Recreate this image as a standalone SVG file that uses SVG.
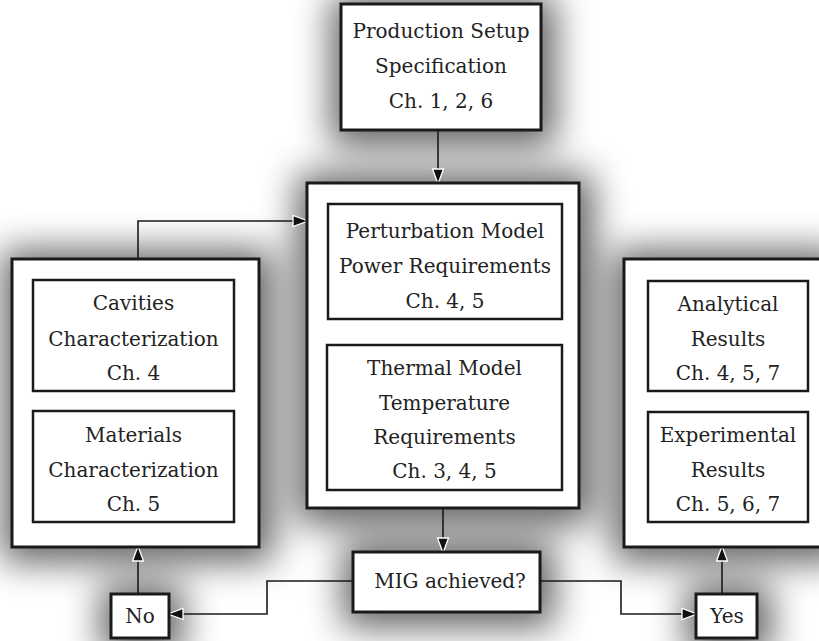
<svg xmlns="http://www.w3.org/2000/svg" width="819" height="641" viewBox="0 0 819 641">
<defs>
<filter id="sh" x="-50%" y="-50%" width="200%" height="200%">
<feGaussianBlur in="SourceGraphic" stdDeviation="18"/>
</filter>
<marker id="ah" markerWidth="18" markerHeight="14" refX="15" refY="6.5" orient="auto" markerUnits="userSpaceOnUse">
<path d="M1,1 L16,6.5 L1,12 z" fill="#111" stroke="#fff" stroke-width="1.3"/>
</marker>
<style>
.outer{fill:#fff;stroke:#1a1a1a;stroke-width:3}
.inner{fill:#fff;stroke:#1a1a1a;stroke-width:2.5}
.conn{fill:none;stroke:#1a1a1a;stroke-width:1.6}
.t{font-family:"DejaVu Serif","Liberation Serif",serif;font-size:20px;fill:#222;text-anchor:middle}
</style>
</defs>
<rect width="819" height="641" fill="#fff"/>
<g id="shadows" fill="#000" opacity="0.62" filter="url(#sh)">
<rect x="331" y="-4" width="224" height="150"/>
<rect x="297" y="174" width="296" height="350"/>
<rect x="2" y="250" width="271" height="312"/>
<rect x="614" y="250" width="232" height="312"/>
<rect x="343" y="543" width="211" height="84"/>
<rect x="101" y="585" width="82" height="70"/>
<rect x="686" y="585" width="85" height="70"/>
</g>
<g id="connectors">
<line class="conn" x1="438" y1="130" x2="438" y2="183" marker-end="url(#ah)"/>
<polyline class="conn" points="138,259 138,221 307,221" marker-end="url(#ah)"/>
<line class="conn" x1="443" y1="508" x2="443" y2="552" marker-end="url(#ah)"/>
<polyline class="conn" points="353,581 267,581 267,614 169,614" marker-end="url(#ah)"/>
<polyline class="conn" points="540,581 621,581 621,614 696,614" marker-end="url(#ah)"/>
<line class="conn" x1="138" y1="594" x2="138" y2="547" marker-end="url(#ah)"/>
<line class="conn" x1="722" y1="594" x2="722" y2="547" marker-end="url(#ah)"/>
</g>
<g id="production-setup">
<rect class="outer" x="341" y="4" width="200" height="126"/>
<text class="t" x="441" y="38">Production Setup</text>
<text class="t" x="441" y="73">Specification</text>
<text class="t" x="441" y="108">Ch. 1, 2, 6</text>
</g>
<g id="models">
<rect class="outer" x="307" y="183" width="272" height="325"/>
</g>
<g id="perturbation-model">
<rect class="inner" x="328" y="204" width="234" height="115"/>
<text class="t" x="445" y="238">Perturbation Model</text>
<text class="t" x="445" y="273">Power Requirements</text>
<text class="t" x="445" y="308">Ch. 4, 5</text>
</g>
<g id="thermal-model">
<rect class="inner" x="327" y="345" width="235" height="145"/>
<text class="t" x="444.5" y="375">Thermal Model</text>
<text class="t" x="444.5" y="410">Temperature</text>
<text class="t" x="444.5" y="444">Requirements</text>
<text class="t" x="444.5" y="478">Ch. 3, 4, 5</text>
</g>
<g id="characterization">
<rect class="outer" x="12" y="259" width="247" height="288"/>
</g>
<g id="cavities">
<rect class="inner" x="33" y="280" width="201" height="111"/>
<text class="t" x="133.5" y="310">Cavities</text>
<text class="t" x="133.5" y="346">Characterization</text>
<text class="t" x="133.5" y="380">Ch. 4</text>
</g>
<g id="materials">
<rect class="inner" x="33" y="411" width="201" height="111"/>
<text class="t" x="133.5" y="442">Materials</text>
<text class="t" x="133.5" y="477">Characterization</text>
<text class="t" x="133.5" y="511">Ch. 5</text>
</g>
<g id="results">
<rect class="outer" x="624" y="259" width="210" height="288"/>
</g>
<g id="analytical">
<rect class="inner" x="648" y="281" width="160" height="110"/>
<text class="t" x="728" y="311">Analytical</text>
<text class="t" x="728" y="346">Results</text>
<text class="t" x="728" y="380">Ch. 4, 5, 7</text>
</g>
<g id="experimental">
<rect class="inner" x="648" y="412" width="160" height="110"/>
<text class="t" x="728" y="442">Experimental</text>
<text class="t" x="728" y="477">Results</text>
<text class="t" x="728" y="511">Ch. 5, 6, 7</text>
</g>
<g id="mig">
<rect class="outer" x="353" y="552" width="187" height="60"/>
<text class="t" x="450" y="588">MIG achieved?</text>
</g>
<g id="no">
<rect class="outer" x="111" y="594" width="58" height="44"/>
<text class="t" x="140" y="623">No</text>
</g>
<g id="yes">
<rect class="outer" x="696" y="594" width="61" height="44"/>
<text class="t" x="727" y="623">Yes</text>
</g>
</svg>
